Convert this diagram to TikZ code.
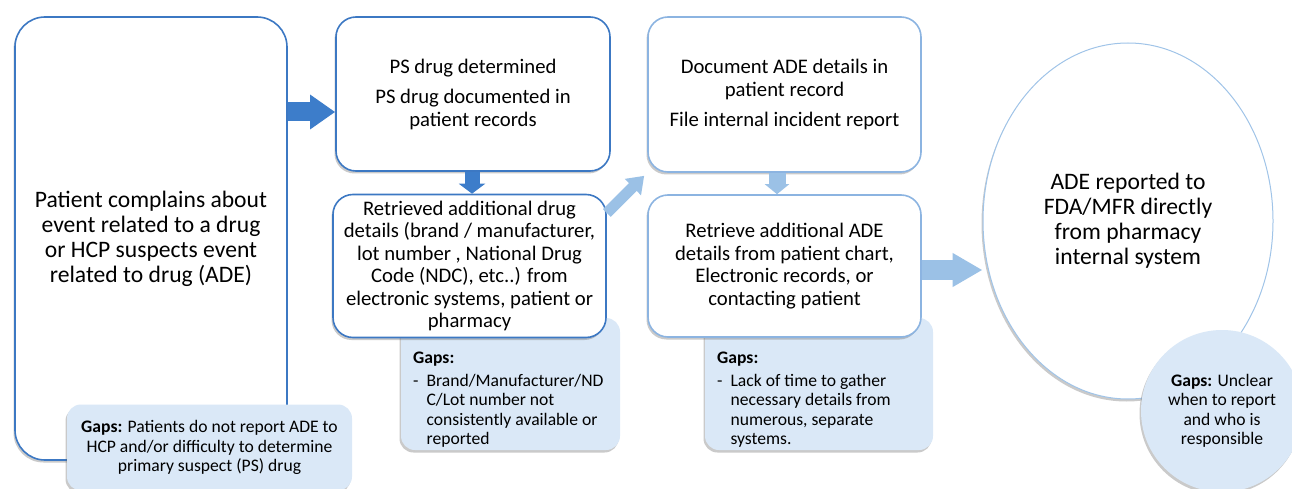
\documentclass[tikz,border=0pt]{standalone}
\usepackage{fontspec}
\setmainfont{Carlito}
\usetikzlibrary{arrows.meta,shadows,shapes.geometric,calc}
\definecolor{bdark}{RGB}{60,120,195}
\definecolor{adark}{RGB}{61,125,202}
\definecolor{alight}{RGB}{155,193,230}
\definecolor{blight}{RGB}{140,180,225}
\definecolor{gapfill}{RGB}{218,232,247}
\definecolor{ellb}{RGB}{160,196,232}
\tikzset{
  shad/.style={drop shadow={shadow xshift=-1.5pt,shadow yshift=-2.5pt,opacity=0.35,fill=black!60}},
  stepbox/.style={draw=bdark,line width=1.6pt,fill=white,rounded corners=20pt,inner sep=0pt,align=center,shad,font=\fontsize{20.7}{22.5}\selectfont},
  stepboxl/.style={stepbox,draw=blight},
  gapbox/.style={fill=gapfill,draw=none,rounded corners=14pt,inner sep=0pt,shad},
  gaptext/.style={font=\fontsize{17.6}{19.5}\selectfont,inner sep=0pt},
  darrow/.style={draw=adark,line cap=butt},
  larrow/.style={draw=alight,line cap=butt},
}
\begin{document}
\begin{tikzpicture}[x=1pt,y=-1pt]
\useasboundingbox (0,0) rectangle (1292,489);
% gaps boxes behind
\node[gapbox,minimum width=219pt,minimum height=132pt] (g2) at (510.5,384) {};
\node[gapbox,minimum width=228pt,minimum height=132pt] (g3) at (819,384) {};
% big box
\node[stepbox,rounded corners=30pt,minimum width=272pt,minimum height=443pt,font=\fontsize{23.6}{25}\selectfont] (big) at (151,238.5)
  {Patient complains about\\event related to a drug\\or HCP suspects event\\related to drug (ADE)};
\node[gapbox,minimum width=285pt,minimum height=86pt,gaptext,align=center] (g1) at (209.5,447.5)
  {\textbf{Gaps:} Patients do not report ADE to\\HCP and/or difficulty to determine\\primary suspect (PS) drug};
% step boxes
\node[stepbox,minimum width=274pt,minimum height=154pt] (ps) at (473,94)
  {PS drug determined\\[8pt]PS drug documented in\\patient records};
\node[stepbox,minimum width=273pt,minimum height=143pt] (retr) at (469.5,266)
  {Retrieved additional drug\\details (brand / manufacturer,\\lot number , National Drug\\Code (NDC), etc..) from\\electronic systems, patient or\\pharmacy};
\node[stepboxl,minimum width=273pt,minimum height=155pt] (doc) at (784.5,94.5)
  {Document ADE details in\\patient record\\[8pt]File internal incident report};
\node[stepboxl,minimum width=273pt,minimum height=142pt] (ra) at (784.5,266)
  {Retrieve additional ADE\\details from patient chart,\\Electronic records, or\\contacting patient};
% gaps texts
\node[gaptext,anchor=north west,align=left] (g2t) at (413,352)
  {\textbf{Gaps:}\\[5pt]
   \begin{tabular}{@{}l@{\hspace{8pt}}l@{}}
   - & Brand/Manufacturer/ND\\
     & C/Lot number not\\
     & consistently available or\\
     & reported
   \end{tabular}};
\node[gaptext,anchor=north west,align=left] (g3t) at (717,352)
  {\textbf{Gaps:}\\[5pt]
   \begin{tabular}{@{}l@{\hspace{8pt}}l@{}}
   - & Lack of time to gather\\
     & necessary details from\\
     & numerous, separate\\
     & systems.
   \end{tabular}};
% ellipse and circle
\node[ellipse,draw=ellb,line width=1pt,fill=white,minimum width=290pt,minimum height=356pt,inner sep=0pt,align=center,shad,font=\fontsize{23.6}{25}\selectfont] (ell) at (1128,221)
  {ADE reported to\\FDA/MFR directly\\from pharmacy\\internal system};
\node[circle,fill=gapfill,minimum size=162pt,inner sep=0pt,align=center,shad,gaptext] (gc) at (1222,411)
  {\textbf{Gaps:} Unclear\\when to report\\and who is\\responsible};
% arrows
\coordinate (y1) at (0,112);
\coordinate (x1) at (472,0);
\coordinate (x2) at (777,0);
\coordinate (y3) at (0,270);
\coordinate (yd) at (0,213);
\draw[darrow,line width=19pt,-{Triangle[width=33pt,length=25pt]}] (big.east |- y1) -- (ps.west |- y1);
\draw[darrow,line width=15pt,-{Triangle[width=26pt,length=10pt]}] (ps.south -| x1) -- (retr.north -| x1);
\draw[larrow,line width=11pt,-{Triangle[width=22pt,length=16pt]}] (retr.east |- yd) -- ($(doc.south west)+(-3,3)$);
\draw[larrow,line width=17pt,-{Triangle[width=24pt,length=10pt]}] (doc.south -| x2) -- (ra.north -| x2);
\draw[larrow,line width=20pt,-{Triangle[width=32pt,length=30pt]}] (ra.east |- y3) -- (ell.west |- y3);
\end{tikzpicture}
\end{document}
